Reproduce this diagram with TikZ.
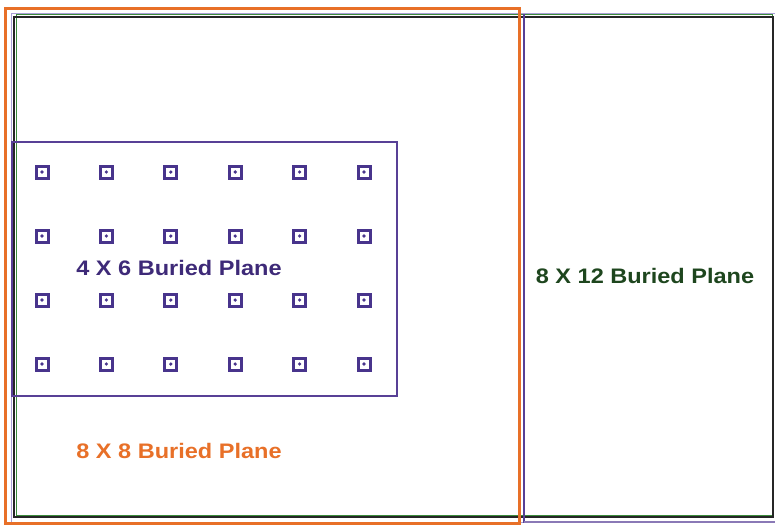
\documentclass[tikz,border=0pt]{standalone}
\usepackage{fontspec}
\setmainfont{Liberation Sans}
\definecolor{orangeP}{RGB}{232,112,40}
\definecolor{purpleP}{RGB}{88,64,150}
\definecolor{lightP}{RGB}{170,160,215}
\definecolor{viaP}{RGB}{72,52,140}
\definecolor{txtP}{RGB}{62,42,120}
\definecolor{greenT}{RGB}{30,70,30}
\definecolor{greenL}{RGB}{60,140,60}
\tikzset{
  lbl/.style={font=\fontsize{21}{24}\selectfont\bfseries, inner sep=0pt},
  via/.style={draw=viaP, line width=3pt, fill=white},
}
\begin{document}
\begin{tikzpicture}[x=1pt,y=-1pt]
\useasboundingbox[fill=white] (0,0) rectangle (775,525);
% light purple outline of the 8x12 plane
\draw[lightP, line width=1pt] (11,13) rectangle (775,522);
% green + black outer rectangle
\draw[greenL, line width=1pt] (16.5,14.5) rectangle (772,515);
\draw[black!85, line width=1.5pt] (14,17) rectangle (773,517);
% divider and purple right-half outline
\draw[purpleP, line width=1.5pt] (524,14) -- (524,523);
\draw[purpleP!70, line width=1.5pt] (524,522) -- (775,522);
% orange 8x8 plane
\draw[orangeP, line width=3pt] (5.5,8) rectangle (519,523);
% 4x6 plane
\draw[purpleP, line width=1.5pt] (12,142) rectangle (397,396);
% vias
\foreach \i in {0,...,5}{
  \foreach \j in {0,...,3}{
    \pgfmathsetmacro{\cx}{42+64.4*\i}
    \pgfmathsetmacro{\cy}{172+64*\j}
    \draw[via] (\cx-6,\cy-6) rectangle (\cx+6,\cy+6);
    \fill[viaP] (\cx,\cy) circle (1.8);
  }
}
% labels
\node[lbl, text=txtP] (l46) at (179,268) {\scalebox{1.12}[1]{4 X 6 Buried Plane}};
\node[lbl, text=orangeP] (l88) at (179,451) {\scalebox{1.12}[1]{8 X 8 Buried Plane}};
\node[lbl, text=greenT] (l812) at (645,276) {\scalebox{1.12}[1]{8 X 12 Buried Plane}};
\end{tikzpicture}
\end{document}
